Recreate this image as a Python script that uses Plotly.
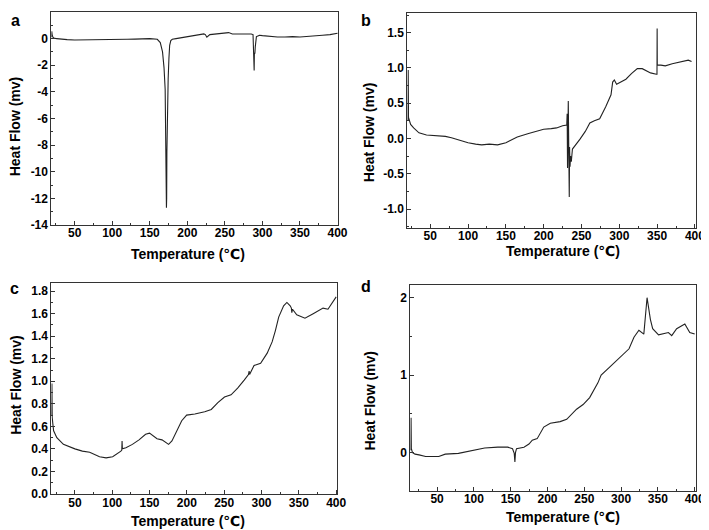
import plotly.graph_objects as go

# ---- data ----
temp_a = [19, 19.5, 20, 21, 23, 26, 30, 40, 50, 60, 65, 70, 80, 90, 100, 110, 120, 130, 140, 150,
          160, 164, 167, 169, 170.5, 171.5, 172.2, 172.5, 172.8, 173.2, 173.8, 174.5, 175.5, 176.5, 178,
          180, 185, 190, 200, 210, 220, 222, 224, 226, 230, 240, 250, 255, 260, 270, 280, 285,
          287.5, 288.5, 289, 289.3, 290, 290.5, 291, 292, 294, 296, 300, 310, 320, 330, 340, 350,
          360, 370, 380, 390, 398, 400]
heat_a = [0.1, 0.55, 0.3, 0.1, 0.02, 0.0, -0.03, -0.08, -0.1, -0.1, -0.07, -0.1, -0.08, -0.07, -0.06, -0.05, -0.05, -0.04, 0.0, 0.0,
          -0.05, -0.3, -1.0, -2.2, -3.8, -8.5, -12.7, -12.0, -8.5, -6.0, -3.2, -3.0, -1.5, -0.5, -0.15,
          -0.05, 0.0, 0.05, 0.1, 0.2, 0.3, 0.35, 0.3, 0.1, 0.3, 0.35, 0.42, 0.45, 0.35, 0.35, 0.4, 0.35,
          0.3, -1.0, -2.4, -1.1, -1.1, -0.6, -0.1, 0.15, 0.2, 0.25, 0.22, 0.15, 0.12, 0.12, 0.15, 0.12,
          0.15, 0.2, 0.25, 0.3, 0.35, 0.4]

temp_b = [20.5, 20.8, 21.2, 22, 24, 28, 35, 45, 55, 70, 78, 90, 100, 110, 118, 128, 139, 150, 165, 180,
          190, 200, 210, 217, 225, 230.5, 231, 231.5, 232.5, 233, 233.5, 233.8, 234.2, 234.8, 235.5, 236.5,
          238, 243.5, 248, 255, 261, 267, 274, 282, 289, 291.2, 293.4, 296.4, 300, 308.7, 316, 323.8,
          330.3, 341.3, 349, 349.8, 350, 350.2, 355, 360.8, 370, 378.2, 385, 391.2, 395.5]
heat_b = [0.25, 0.97, 0.3, 0.27, 0.2, 0.15, 0.08, 0.05, 0.04, 0.03, 0.01, -0.03, -0.06, -0.08, -0.09, -0.08, -0.09, -0.06, 0.02, 0.07,
          0.1, 0.13, 0.14, 0.15, 0.18, 0.19, 0.35, -0.42, 0.53, -0.42, -0.3, -0.83, -0.12, -0.4, -0.25, -0.33,
          -0.15, -0.08, -0.01, 0.1, 0.22, 0.25, 0.28, 0.45, 0.62, 0.8, 0.83, 0.77, 0.79, 0.84, 0.92, 0.99,
          0.99, 0.93, 0.91, 0.91, 1.56, 1.04, 1.04, 1.03, 1.06, 1.08, 1.1, 1.11, 1.09]

temp_c = [18.8, 19.2, 19.6, 20.5, 21.5, 25.8, 34.6, 50, 60, 69.8, 83, 91.8, 100.6, 111.6, 112.8, 113.2, 113.6, 118.3, 127, 135.9,
          144.7, 150, 155.7, 160, 166.7, 175.5, 180, 186.5, 193.1, 199.7, 210.7, 223.9, 232.7, 241.5, 250.4, 259.2, 268, 276.8,
          282.5, 283.4, 284, 290, 298.8, 307.6, 314.2, 318.6, 323, 329.6, 334, 338.4, 340, 340.6, 341.5, 347.2,
          358.2, 369.2, 382.4, 389, 393.5, 400]
heat_c = [0.7, 0.98, 0.68, 0.62, 0.56, 0.5, 0.44, 0.4, 0.38, 0.37, 0.33, 0.32, 0.33, 0.38, 0.39, 0.47, 0.4, 0.41, 0.44, 0.48,
          0.53, 0.54, 0.51, 0.49, 0.48, 0.44, 0.47, 0.56, 0.65, 0.7, 0.71, 0.73, 0.75, 0.81, 0.86, 0.88, 0.94, 1.01,
          1.06, 1.09, 1.06, 1.14, 1.16, 1.25, 1.35, 1.45, 1.57, 1.67, 1.7, 1.67, 1.65, 1.61, 1.64, 1.59,
          1.56, 1.6, 1.65, 1.64, 1.69, 1.75]

temp_d = [14.3, 14.6, 15, 16.6, 20, 25.5, 34.4, 52.2, 61.1, 79, 96.8, 114.6, 132.5, 145.9, 152.5, 154.8, 155.7, 156.5, 157.9, 168,
          174.8, 179.3, 186, 194.9, 203.8, 217.2, 226.1, 239.5, 248.4, 257.3, 268.5, 272.9, 284.1, 297.4, 310.8, 317.5,
          324.2, 330.9, 335.3, 339.8, 342.9, 350.9, 364.3, 368.8, 375.5, 386.6, 393.3, 400]
heat_d = [0.03, 0.45, 0.05, 0.0, -0.02, -0.03, -0.05, -0.05, -0.02, -0.01, 0.03, 0.06, 0.07, 0.07, 0.05, -0.01, -0.12, 0.0, 0.05, 0.07,
          0.11, 0.16, 0.18, 0.33, 0.38, 0.4, 0.43, 0.56, 0.62, 0.71, 0.9, 1.0, 1.1, 1.22, 1.34, 1.49,
          1.58, 1.53, 2.0, 1.72, 1.6, 1.52, 1.55, 1.51, 1.6, 1.66, 1.55, 1.53]

# y tick values and labels (hyphen minus as in the original)
yticks_a = [2, 0, -2, -4, -6, -8, -10, -12, -14]
ylabels_a = ["2", "0", "-2", "-4", "-6", "-8", "-10", "-12", "-14"]
yticks_b = [1.5, 1.0, 0.5, 0.0, -0.5, -1.0]
ylabels_b = ["1.5", "1.0", "0.5", "0.0", "-0.5", "-1.0"]
yticks_c = [1.8, 1.6, 1.4, 1.2, 1.0, 0.8, 0.6, 0.4, 0.2, 0.0]
ylabels_c = ["1.8", "1.6", "1.4", "1.2", "1.0", "0.8", "0.6", "0.4", "0.2", "0.0"]
yticks_d = [2, 1, 0]
ylabels_d = ["2", "1", "0"]

panel_labels = ["a", "b", "c", "d"]
x_title = "Temperature (℃)"
y_title = "Heat Flow (mv)"

W, H = 709, 530
def px_x(p):
    return p / W
def px_y(p):
    return 1 - p / H

# plot boxes in pixels: (left, top, right, bottom)
boxes = [(44, 4, 335, 220), (405, 5, 698, 223), (44, 279, 334, 493), (408, 281, 698, 489)]
xranges = [[19, 401], [19.6, 401.6], [18.5, 401.5], [13.5, 402]]
yranges = [[-14, 2], [-1.27, 1.78], [-0.005, 1.87], [-0.49, 2.16]]
yminor = [1, 0.25, 0.1, 0.5]
yticks = [(yticks_a, ylabels_a), (yticks_b, ylabels_b), (yticks_c, ylabels_c), (yticks_d, ylabels_d)]
series = [(temp_a, heat_a), (temp_b, heat_b), (temp_c, heat_c), (temp_d, heat_d)]

fig = go.Figure()
tickfont = dict(family="Liberation Sans, Arial, sans-serif", size=12, color="black", weight="bold")
axcommon = dict(showline=True, linecolor="#333", linewidth=1, mirror=True, ticks="inside",
                ticklen=4, tickcolor="#333", showgrid=False, zeroline=False, tickfont=tickfont)

for i, ((t, h), box) in enumerate(zip(series, boxes)):
    n = "" if i == 0 else str(i + 1)
    fig.add_trace(go.Scatter(x=t, y=h, mode="lines", line=dict(color="#222222", width=1.1),
                             xaxis="x" + n, yaxis="y" + n, showlegend=False))
    l, tp, r, b = box
    fig.layout["xaxis" + n] = dict(axcommon, domain=[px_x(l), px_x(r)], range=xranges[i],
                                   anchor="y" + n, tick0=0, dtick=50, ticklabelstandoff=-3,
                                   minor=dict(ticks="inside", ticklen=2, tickcolor="#333", dtick=25, tick0=0))
    tv, tt = yticks[i]
    fig.layout["yaxis" + n] = dict(axcommon, domain=[px_y(b), px_y(tp)], range=yranges[i],
                                   anchor="x" + n, tickmode="array", tickvals=tv, ticktext=tt,
                                   minor=dict(ticks="inside", ticklen=2, tickcolor="#333", dtick=yminor[i], tick0=0))

# annotations: panel labels, axis titles
label_pos = [(8, 13), (363, 13), (7, 284), (363, 282)]
xtitle_pos = [(183, 249), (563, 246), (183, 520), (563, 516)]
ytitle_pos = [(8, 120), (366, 126), (8, 382), (367, 398)]
ann = []
for i in range(4):
    lx, ly = label_pos[i]
    ann.append(dict(x=px_x(lx), y=px_y(ly), xref="paper", yref="paper", text="<b>%s</b>" % panel_labels[i],
                    showarrow=False, xanchor="center", yanchor="middle",
                    font=dict(family="Liberation Sans, Arial, sans-serif", size=16, color="black")))
    tx, ty = xtitle_pos[i]
    ann.append(dict(x=px_x(tx), y=px_y(ty), xref="paper", yref="paper", text="<b>%s</b>" % x_title,
                    showarrow=False, xanchor="center", yanchor="middle",
                    font=dict(family="Liberation Sans, DejaVu Sans, sans-serif", size=14, color="black")))
    yx, yy = ytitle_pos[i]
    ann.append(dict(x=px_x(yx), y=px_y(yy), xref="paper", yref="paper", text="<b>%s</b>" % y_title,
                    showarrow=False, xanchor="center", yanchor="middle", textangle=-90,
                    font=dict(family="Liberation Sans, Arial, sans-serif", size=14, color="black")))

fig.update_layout(width=W, height=H, margin=dict(l=0, r=0, t=0, b=0),
                  paper_bgcolor="white", plot_bgcolor="white", annotations=ann)

fig.write_html("out.html")
